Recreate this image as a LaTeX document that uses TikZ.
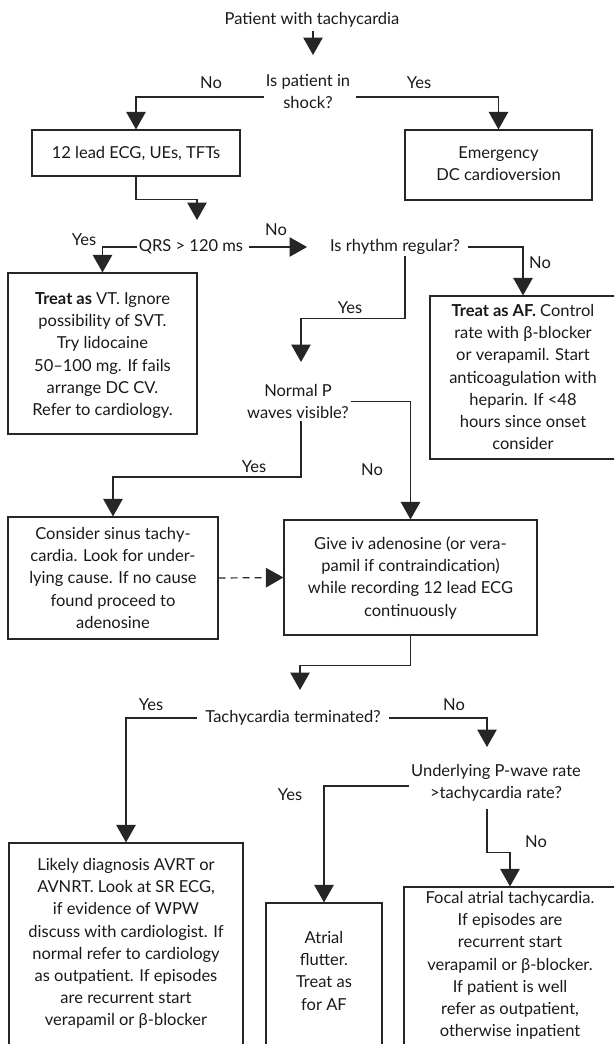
\documentclass[tikz,border=0pt]{standalone}
\usepackage{fontspec}
\setmainfont{Lato}
\usetikzlibrary{arrows.meta}
\newcommand{\bxt}[4]{\begin{minipage}[c][#2][t]{#1}\vspace*{#3}\centering\strut #4\end{minipage}}
\begin{document}
\begin{tikzpicture}[x=1pt,y=-1pt,
  every node/.style={font=\fontsize{16.5}{22.2}\selectfont, text=black!90, inner sep=0pt},
  box/.style={draw=black!85, line width=1.2pt},
  lbl/.style={align=center},
  arr/.style={draw=black!85, line width=1.2pt, -{Triangle[width=19.5pt,length=17.5pt]}}
]
\useasboundingbox (0,0) rectangle (614,1044);
\clip (0,0) rectangle (614,1044);

% decision texts and boxes
\node[lbl] (title) at (312,20) {Patient with tachycardia};
\node[lbl] (q1) at (308,91.5) {Is patient in\\shock?};
\node[box] (ecg) at (136,153) {\bxt{208pt}{46pt}{13pt}{12 lead ECG, UEs, TFTs}};
\node[box] (emerg) at (498.5,165) {\bxt{187pt}{70pt}{13pt}{Emergency\\DC cardioversion}};
\node[lbl] (qrs) at (191,247) {QRS > 120 ms};
\node[lbl] (rhythm) at (395,247) {Is rhythm regular?};
\node[box] (vt) at (102.5,353.5) {\bxt{189pt}{161pt}{16pt}{\textbf{Treat as} VT. Ignore\\possibility of SVT.\\Try lidocaine\\50–100 mg. If fails\\arrange DC CV.\\Refer to cardiology.}};
\node[box] (af) at (523,377.5) {\bxt{186pt}{163pt}{5pt}{\textbf{Treat as AF.} Control\\rate with β-blocker\\or verapamil. Start\\anticoagulation with\\heparin. If <48\\hours since onset\\consider}};
\node[lbl] (normalp) at (298,401.5) {Normal P\\waves visible?};
\node[box] (sinus) at (113,578) {\bxt{210pt}{122pt}{7pt}{Consider sinus tachy-\\cardia. Look for under-\\lying cause. If no cause\\found proceed to\\adenosine}};
\node[box] (aden) at (410.5,577.5) {\bxt{253pt}{115pt}{14pt}{Give iv adenosine (or vera-\\pamil if contraindication)\\while recording 12 lead ECG\\continuously}};
\node[lbl] (term) at (293,718) {Tachycardia terminated?};
\node[lbl] (under) at (496,782.5) {Underlying P-wave rate\\>tachycardia rate?};
\node[box] (avrt) at (126,951.5) {\bxt{234pt}{217pt}{12pt}{Likely diagnosis AVRT or\\AVNRT. Look at SR ECG,\\if evidence of WPW\\discuss with cardiologist. If\\normal refer to cardiology\\as outpatient. If episodes\\are recurrent start\\verapamil or β-blocker}};
\node[box] (flutter) at (324,981.5) {\bxt{116pt}{157pt}{25pt}{Atrial\\flutter.\\Treat as\\for AF}};
\node[box] (focal) at (510,973.5) {\bxt{212pt}{173pt}{1pt}{Focal atrial tachycardia.\\If episodes are\\recurrent start\\verapamil or β-blocker.\\If patient is well\\refer as outpatient,\\otherwise inpatient}};

% branch labels
\node (l1) at (211,83) {No};
\node (l2) at (419,83) {Yes};
\node (l3) at (84,240) {Yes};
\node (l4) at (276,230) {No};
\node (l5) at (540,263) {No};
\node (l6) at (350,308) {Yes};
\node (l7) at (254,467) {Yes};
\node (l8) at (372,470) {No};
\node (l9) at (151,705) {Yes};
\node (l10) at (454,705) {No};
\node (l11) at (290,795) {Yes};
\node (l12) at (536,842) {No};

% free ends of arrows
\coordinate (q1in) at (313,55);
\coordinate (qrsin) at (197,220);
\coordinate (rhin) at (307,247);
\coordinate (npin) at (301,362);
\coordinate (termin) at (300,690);
\coordinate (underin) at (487,747);

% connectors
\draw[arr] ([yshift=-3pt]title.south -| q1in) -- (q1in);
\draw[arr] ([shift={(-2pt,-5.5pt)}]q1.west) -| (ecg.north);
\draw[arr] ([shift={(6pt,-5.5pt)}]q1.east) -| (emerg.north);
\draw[arr] (ecg.south) -- ++(0,23) -| (qrsin);
\draw[arr] ([xshift=-2pt]qrs.west) -| (vt.north);
\draw[arr] ([xshift=6pt]qrs.east) -- (rhin);
\draw[arr] ([xshift=8pt]rhythm.east) -| (af.north);
\draw[arr] ([shift={(10pt,-1pt)}]rhythm.south) -- ++(0,63) -| (npin);
\draw[arr] ([xshift=2pt]normalp.east) -| (aden.north);
\draw[arr] ([shift={(3pt,-2pt)}]normalp.south) -- ++(0,56) -| (sinus.north);
\draw[arr, dash pattern=on 7pt off 5pt] (sinus.east) -- (aden.west);
\draw[arr] (aden.south) -- ++(0,30) -| (termin);
\draw[arr] ([xshift=-8pt]term.west) -| (avrt.north);
\draw[arr] ([xshift=8pt]term.east) -| (underin);
\draw[arr] ([shift={(-2pt,-3.5pt)}]under.west) -| (flutter.north);
\draw[arr] ([shift={(-9pt,-8pt)}]under.south) -- ++(0,43) -| (focal.north);
\end{tikzpicture}
\end{document}
